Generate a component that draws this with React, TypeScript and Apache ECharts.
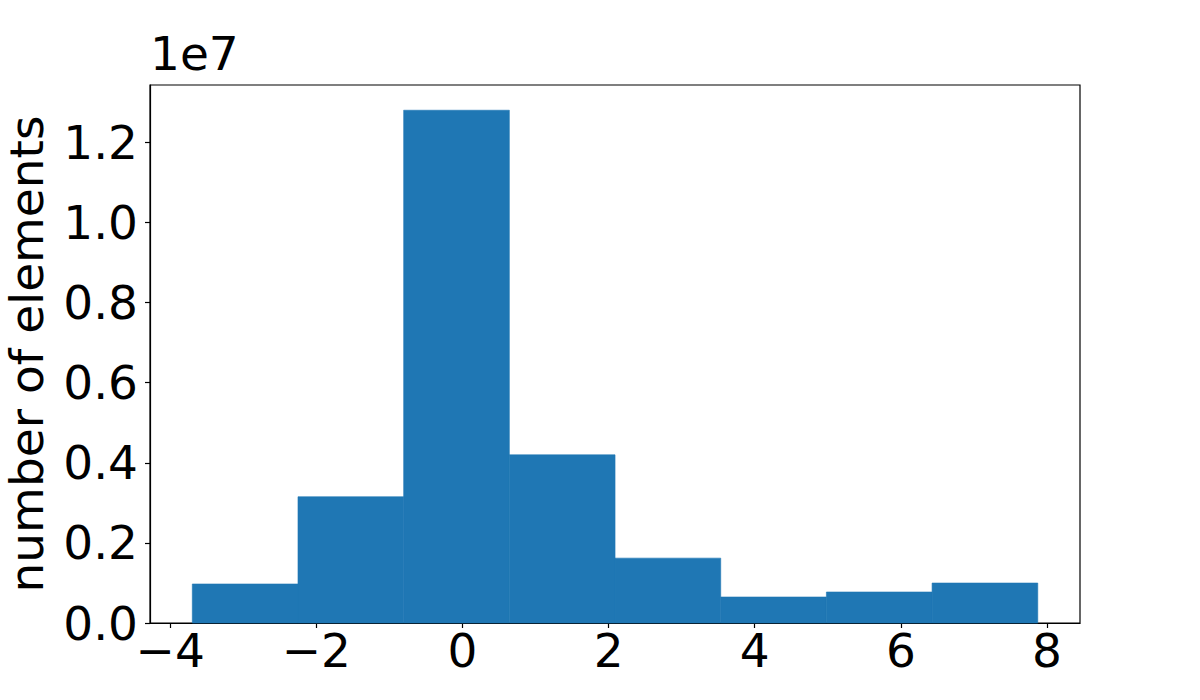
import React, { useEffect, useRef } from "react";
import * as echarts from "echarts";

const binEdges = [-3.698, -2.2515, -0.805, 0.6415, 2.088, 3.5345, 4.981, 6.4275, 7.874];
const counts = [974000, 3153000, 12806000, 4200000, 1620000, 649000, 774000, 998000];
const xTicks = [-4, -2, 0, 2, 4, 6, 8];
const yTicks = [0, 2e6, 4e6, 6e6, 8e6, 10e6, 12e6];
const xRange = [-4.277, 8.452];
const yMax = 1.3436e7;
const yTitle = "number of elements";
const offsetText = "1e7";

const FONT = "'DejaVu Sans', sans-serif";
const FS = 47;

export default function App() {
  const ref = useRef<HTMLDivElement>(null);
  useEffect(() => {
    if (!ref.current) return;
    const chart = echarts.init(ref.current, undefined, { renderer: "svg" });
    const data = counts.map((c, i) => [binEdges[i], binEdges[i + 1], c]);
    chart.setOption({
      animation: false,
      backgroundColor: "#ffffff",
      textStyle: { fontFamily: FONT },
      grid: {
        left: 150,
        right: 120,
        top: 85,
        bottom: 77,
        containLabel: false,
        outerBoundsMode: "none",
        show: true,
        borderColor: "#000",
        borderWidth: 1.2,
        backgroundColor: "transparent",
      },
      xAxis: {
        type: "value",
        min: xRange[0],
        max: xRange[1],
        splitLine: { show: false },
        axisLine: { show: true, onZero: false, lineStyle: { color: "#000", width: 1.2 } },
        axisTick: { show: true, length: 5, customValues: xTicks, lineStyle: { color: "#000", width: 1.2 } },
        axisLabel: {
          customValues: xTicks,
          color: "#000",
          fontSize: FS,
          fontFamily: FONT,
          margin: 4,
          formatter: (v: number) => (v < 0 ? "\u2212" + Math.abs(v) : String(v)),
        },
      },
      yAxis: {
        type: "value",
        min: 0,
        max: yMax,
        splitLine: { show: false },
        name: yTitle,
        nameLocation: "middle",
        nameGap: 100,
        nameTextStyle: { color: "#000", fontSize: FS, fontFamily: FONT },
        axisLine: { show: true, onZero: false, lineStyle: { color: "#000", width: 1.2 } },
        axisTick: { show: true, length: 5, customValues: yTicks, lineStyle: { color: "#000", width: 1.2 } },
        axisLabel: {
          customValues: yTicks,
          color: "#000",
          fontSize: FS,
          fontFamily: FONT,
          margin: 12,
          formatter: (v: number) => (v / 1e7).toFixed(1),
        },
      },
      graphic: [
        {
          type: "text",
          left: 150,
          top: 30,
          style: { text: offsetText, fill: "#000", fontSize: FS, fontFamily: FONT },
        },
      ],
      series: [
        {
          type: "custom",
          data,
          encode: { x: [0, 1], y: 2 },
          renderItem: (params: any, api: any) => {
            const p0 = api.coord([api.value(0), api.value(2)]);
            const p1 = api.coord([api.value(1), 0]);
            return {
              type: "rect",
              shape: { x: p0[0], y: p0[1], width: p1[0] - p0[0], height: p1[1] - p0[1] },
              style: { fill: "#1f77b4", stroke: "#1f77b4", lineWidth: 0.6 },
            };
          },
        },
      ],
    });
    return () => chart.dispose();
  }, []);
  return (
    <div
      ref={ref}
      style={{ position: "fixed", left: 0, top: 0, width: 1200, height: 700 }}
    />
  );
}
